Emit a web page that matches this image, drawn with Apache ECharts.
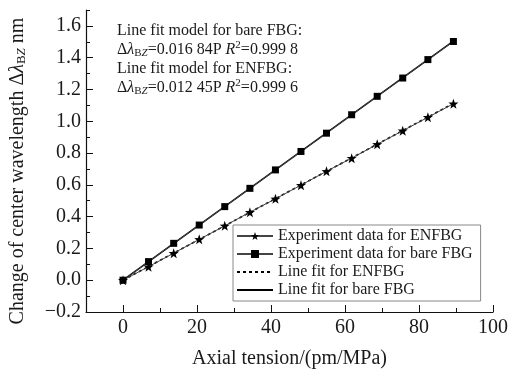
<!DOCTYPE html>
<html>
<head>
<meta charset="utf-8">
<script src="https://cdn.jsdelivr.net/npm/echarts@6/dist/echarts.min.js"></script>
<style>
  html, body { margin: 0; padding: 0; background: #fff; }
  #chart { width: 515px; height: 374px; }
</style>
</head>
<body>
<div id="chart"></div>
<script>
// tension values (pm/MPa) of the measured points
const tension = [0, 6.9, 13.7, 20.6, 27.5, 34.3, 41.2, 48.1, 55.0, 61.8, 68.7, 75.6, 82.4, 89.3];
// measured wavelength shift (nm)
const enfbgData = [0, 0.085, 0.170, 0.257, 0.342, 0.428, 0.512, 0.598, 0.685, 0.768, 0.855, 0.940, 1.025, 1.110];
const bareData = [0, 0.117, 0.232, 0.347, 0.463, 0.578, 0.694, 0.810, 0.925, 1.041, 1.157, 1.272, 1.388, 1.502];
// end points of the fitted lines
const enfbgFit = [[0, 0], [89.3, 1.112]];
const bareFit = [[0, 0], [89.3, 1.504]];

const xMajor = [0, 20, 40, 60, 80, 100];
const xMinor = [10, 30, 50, 70, 90];
const yMajor = [-0.2, 0, 0.2, 0.4, 0.6, 0.8, 1.0, 1.2, 1.4, 1.6];
const yMinor = [-0.1, 0.1, 0.3, 0.5, 0.7, 0.9, 1.1, 1.3, 1.5, 1.7];

const serif = 'Liberation Serif';
const ink = '#1a1a1a';
const star = 'path://M0,-10L2.35,-3.24L9.51,-3.09L3.8,1.24L5.88,8.09L0,4L-5.88,8.09L-3.8,1.24L-9.51,-3.09L-2.35,-3.24Z';

const zip = (xs, ys) => xs.map((x, i) => [x, ys[i]]);

const chart = echarts.init(document.getElementById('chart'));

const baseAxis = {
    type: 'value',
    splitLine: { show: false },
    axisLine: { onZero: false, lineStyle: { color: '#111', width: 1.2 } }
};

const rich = {
    it: { fontFamily: serif, fontStyle: 'italic', fontSize: 16, color: ink },
    sub: { fontFamily: serif, fontSize: 11, verticalAlign: 'bottom', color: ink },
    subi: { fontFamily: serif, fontSize: 11, fontStyle: 'italic', verticalAlign: 'bottom', color: ink },
    sup: { fontFamily: serif, fontSize: 11, verticalAlign: 'top', color: ink }
};

const option = {
    animation: false,
    backgroundColor: '#fff',
    grid: { left: 86, right: 22, top: 10, bottom: 61 },
    xAxis: [
        {
            ...baseAxis,
            position: 'bottom',
            min: -10, max: 100,
            name: 'Axial tension/(pm/MPa)',
            nameLocation: 'middle',
            nameGap: 37,
            nameTextStyle: { fontFamily: serif, fontSize: 20, color: ink },
            axisTick: { inside: true, length: 7, customValues: xMajor, lineStyle: { color: '#111' } },
            axisLabel: { customValues: xMajor, fontFamily: serif, fontSize: 20, color: ink, margin: 6 }
        },
        {
            ...baseAxis,
            position: 'bottom',
            min: -10, max: 100,
            axisLine: { show: false, onZero: false },
            axisTick: { inside: true, length: 4, customValues: xMinor, lineStyle: { color: '#111' } },
            axisLabel: { show: false }
        }
    ],
    yAxis: [
        {
            ...baseAxis,
            position: 'left',
            min: -0.2, max: 1.7,
            name: 'Change of center wavelength Δ{it|λ}{sub|B}{subi|Z} nm',
            nameLocation: 'middle',
            nameGap: 58,
            nameRotate: 90,
            nameTextStyle: {
                fontFamily: serif, fontSize: 20, color: ink,
                padding: [0, 20, 0, 0],
                rich: {
                    it: { fontFamily: serif, fontStyle: 'italic', fontSize: 20, color: ink },
                    sub: { fontFamily: serif, fontSize: 13, verticalAlign: 'bottom', color: ink },
                    subi: { fontFamily: serif, fontSize: 13, fontStyle: 'italic', verticalAlign: 'bottom', color: ink }
                }
            },
            axisTick: { inside: true, length: 7, customValues: yMajor, lineStyle: { color: '#111' } },
            axisLabel: {
                customValues: yMajor,
                fontFamily: serif, fontSize: 20, color: ink, margin: 5,
                formatter: v => (v < 0 ? '\u2212' : '') + Math.abs(v).toFixed(1)
            }
        },
        {
            ...baseAxis,
            position: 'left',
            min: -0.2, max: 1.7,
            axisLine: { show: false, onZero: false },
            axisTick: { inside: true, length: 4, customValues: yMinor, lineStyle: { color: '#111' } },
            axisLabel: { show: false }
        }
    ],
    legend: {
        orient: 'vertical',
        left: 233,
        top: 225,
        padding: [3, 8, 3, 3],
        itemGap: 2,
        itemWidth: 36,
        itemHeight: 10,
        borderColor: '#888',
        borderWidth: 1,
        borderRadius: 0,
        textStyle: { fontFamily: serif, fontSize: 16, color: ink },
        data: [
            'Experiment data for ENFBG',
            'Experiment data for bare FBG',
            { name: 'Line fit for ENFBG', itemStyle: { opacity: 0 } },
            { name: 'Line fit for bare FBG', itemStyle: { opacity: 0 } }
        ]
    },
    graphic: [
        {
            type: 'text',
            left: 117,
            top: 21,
            style: {
                text: [
                    'Line fit model for bare FBG:',
                    'Δ{it|λ}{sub|B}{subi|Z}=0.016 84P {it|R}{sup|2}=0.999 8',
                    'Line fit model for ENFBG:',
                    'Δ{it|λ}{sub|B}{subi|Z}=0.012 45P {it|R}{sup|2}=0.999 6'
                ].join('\n'),
                font: '16px "Liberation Serif"',
                fill: ink,
                lineHeight: 19,
                rich: rich
            }
        }
    ],
    series: [
        {
            name: 'Experiment data for ENFBG',
            type: 'line',
            data: zip(tension, enfbgData),
            symbol: star,
            symbolSize: 10,
            itemStyle: { color: '#000' },
            lineStyle: { color: '#444', width: 1 },
            z: 3
        },
        {
            name: 'Experiment data for bare FBG',
            type: 'line',
            data: zip(tension, bareData),
            symbol: 'rect',
            symbolSize: 7,
            itemStyle: { color: '#000' },
            lineStyle: { color: '#444', width: 1 },
            z: 3
        },
        {
            name: 'Line fit for ENFBG',
            type: 'line',
            data: enfbgFit,
            symbol: 'none',
            itemStyle: { color: '#000' },
            lineStyle: { color: '#000', width: 1.6, type: [3, 3] },
            z: 2
        },
        {
            name: 'Line fit for bare FBG',
            type: 'line',
            data: bareFit,
            symbol: 'none',
            itemStyle: { color: '#000' },
            lineStyle: { color: '#000', width: 1.6 },
            z: 2
        }
    ]
};

chart.setOption(option);
</script>
</body>
</html>
